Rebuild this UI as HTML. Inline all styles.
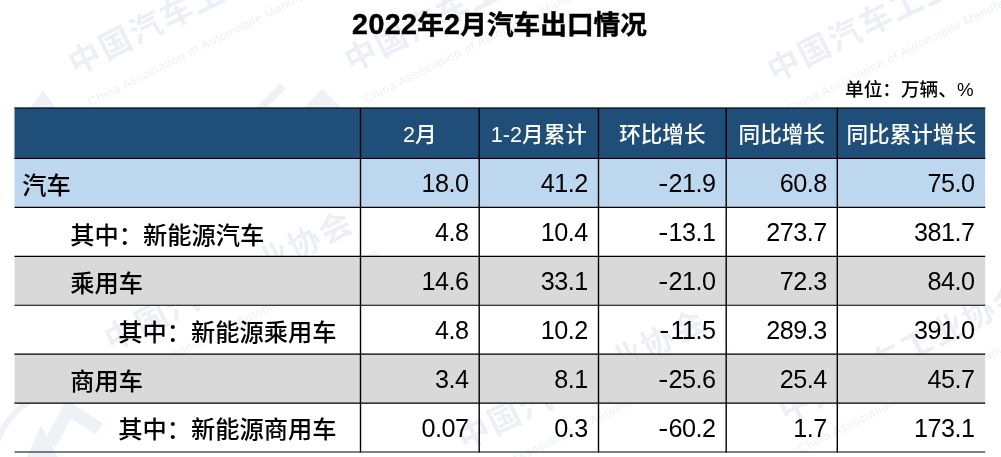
<!DOCTYPE html><html lang="zh-CN"><head><meta charset="utf-8"><title>2022年2月汽车出口情况</title><style>
html,body{margin:0;padding:0;background:#fff}
body{width:1001px;height:457px;position:relative;overflow:hidden;font-family:"Liberation Sans","Noto Sans CJK SC",sans-serif;color:#000;font-weight:500}
.a{position:absolute;white-space:nowrap}
.bg{position:absolute}
.ln{position:absolute;background:#000}
.w{position:absolute;white-space:nowrap;transform-origin:0 0;transform:rotate(-26.5deg);color:#ECF0F6;font-weight:700}
.w1{font-size:32px;line-height:38px;letter-spacing:2.2px}
.w2{font-size:12px;line-height:16px;font-weight:400;margin-left:0px;margin-top:14px;letter-spacing:0.7px}
.t{position:absolute;white-space:nowrap;font-weight:700;text-align:center;-webkit-text-stroke:0.45px #000}
.t .d{font-size:28.6px;line-height:1px;letter-spacing:0.4px}
.h{position:absolute;white-space:nowrap;color:#fff;text-align:center}
.c{position:absolute;white-space:nowrap}
span.k{}
.n{position:absolute;white-space:nowrap;text-align:right;letter-spacing:-0.5px}
.m{display:inline-block;width:10px;text-align:center;margin-right:1px;transform:scaleX(1.2)}

</style></head><body>
<div class="w" style="left:62.1px;top:49.1px"><div class="w1">中国汽车工业协会</div><div class="w2">China Association of Automobile Manufacturers</div></div>
<div class="w" style="left:337.6px;top:45.7px"><div class="w1">中国汽车工业协会</div><div class="w2">China Association of Automobile Manufacturers</div></div>
<div class="w" style="left:761.1px;top:56.2px"><div class="w1">中国汽车工业协会</div><div class="w2">China Association of Automobile Manufacturers</div></div>
<div class="w" style="left:97.5px;top:324.7px"><div class="w1">中国汽车工业协会</div><div class="w2">China Association of Automobile Manufacturers</div></div>
<div class="w" style="left:451.1px;top:423.7px"><div class="w1">中国汽车工业协会</div><div class="w2">China Association of Automobile Manufacturers</div></div>
<div class="w" style="left:772.1px;top:395.7px"><div class="w1">中国汽车工业协会</div><div class="w2">China Association of Automobile Manufacturers</div></div>
<div class="t" style="left:0;width:999px;top:6.5px;font-size:26.67px;line-height:36px"><span class="d">2022</span>年<span class="d">2</span>月汽车出口情况</div>
<div class="n" style="left:700px;width:273.5px;top:77px;font-size:18.67px;line-height:26px;letter-spacing:0">单位<span class="k">：</span>万辆、%</div>
<svg class="bg" style="left:0;top:0" width="1001" height="457" viewBox="0 0 1001 457">
<g fill="#EEF2F7" stroke="none"><polygon points="27,457 41,425 58,457"/><polygon points="30,108 43,90 56,108"/><polygon points="304,108 322,89 342,108"/></g>
<g fill="none" stroke="#EEF2F7"><polyline points="50,444 69,409 99,429" stroke-width="13"/><path d="M-6,470 A72,72 0 0 1 42,396" stroke-width="6"/><line x1="259" y1="110" x2="283" y2="86" stroke-width="8"/></g>
<rect x="14.5" y="107.7" width="970.7" height="51.2" fill="#1F4E79"/>
<rect x="14.5" y="157.9" width="970.7" height="49.9" fill="#BDD7EE"/>
<rect x="14.5" y="255.8" width="970.7" height="49.9" fill="#D9D9D9"/>
<rect x="14.5" y="353.6" width="970.7" height="50" fill="#D9D9D9"/>
<g stroke="#000" stroke-width="1.15">
<line x1="14.5" y1="108" x2="985.2" y2="108"/>
<line x1="14.5" y1="158.4" x2="985.2" y2="158.4"/>
<line x1="14.5" y1="207.3" x2="985.2" y2="207.3"/>
<line x1="14.5" y1="256.3" x2="985.2" y2="256.3"/>
<line x1="14.5" y1="305.2" x2="985.2" y2="305.2"/>
<line x1="14.5" y1="354.1" x2="985.2" y2="354.1"/>
<line x1="14.5" y1="403.1" x2="985.2" y2="403.1"/>
<line x1="14.5" y1="452" x2="985.2" y2="452"/>
</g><g stroke="#000" stroke-width="1.4">
<line x1="360.5" y1="108" x2="360.5" y2="452.6"/>
<line x1="479.2" y1="108" x2="479.2" y2="452.6"/>
<line x1="598.5" y1="108" x2="598.5" y2="452.6"/>
<line x1="726.2" y1="108" x2="726.2" y2="452.6"/>
<line x1="837.3" y1="108" x2="837.3" y2="452.6"/>
</g></svg>
<div class="h" style="left:360.5px;width:118.7px;top:109.5px;height:50.4px;line-height:50.4px;font-size:21.6px">2月</div>
<div class="h" style="left:479.2px;width:119.3px;top:109.5px;height:50.4px;line-height:50.4px;font-size:21.6px">1-2月累计</div>
<div class="h" style="left:598.5px;width:127.7px;top:109.5px;height:50.4px;line-height:50.4px;font-size:21.6px">环比增长</div>
<div class="h" style="left:726.2px;width:111.1px;top:109.5px;height:50.4px;line-height:50.4px;font-size:21.6px">同比增长</div>
<div class="h" style="left:837.3px;width:147.9px;top:109.5px;height:50.4px;line-height:50.4px;font-size:21.6px">同比累计增长</div>
<div class="c" style="left:22.3px;top:161.7px;height:48.9px;line-height:48.9px;font-size:24.25px">汽车</div>
<div class="n" style="left:360.5px;width:108.1px;top:159.1px;height:48.9px;line-height:48.9px;font-size:25.2px">18.0</div>
<div class="n" style="left:479.2px;width:108.7px;top:159.1px;height:48.9px;line-height:48.9px;font-size:25.2px">41.2</div>
<div class="n" style="left:598.5px;width:117.1px;top:159.1px;height:48.9px;line-height:48.9px;font-size:25.2px"><span class="m">-</span>21.9</div>
<div class="n" style="left:726.2px;width:100.5px;top:159.1px;height:48.9px;line-height:48.9px;font-size:25.2px">60.8</div>
<div class="n" style="left:837.3px;width:137.3px;top:159.1px;height:48.9px;line-height:48.9px;font-size:25.2px">75.0</div>
<div class="c" style="left:70.3px;top:210.6px;height:49px;line-height:49px;font-size:24.25px">其中<span class="k">：</span>新能源汽车</div>
<div class="n" style="left:360.5px;width:108.1px;top:208px;height:49px;line-height:49px;font-size:25.2px">4.8</div>
<div class="n" style="left:479.2px;width:108.7px;top:208px;height:49px;line-height:49px;font-size:25.2px">10.4</div>
<div class="n" style="left:598.5px;width:117.1px;top:208px;height:49px;line-height:49px;font-size:25.2px"><span class="m">-</span>13.1</div>
<div class="n" style="left:726.2px;width:100.5px;top:208px;height:49px;line-height:49px;font-size:25.2px">273.7</div>
<div class="n" style="left:837.3px;width:137.3px;top:208px;height:49px;line-height:49px;font-size:25.2px">381.7</div>
<div class="c" style="left:70.3px;top:259.6px;height:48.9px;line-height:48.9px;font-size:24.25px">乘用车</div>
<div class="n" style="left:360.5px;width:108.1px;top:257px;height:48.9px;line-height:48.9px;font-size:25.2px">14.6</div>
<div class="n" style="left:479.2px;width:108.7px;top:257px;height:48.9px;line-height:48.9px;font-size:25.2px">33.1</div>
<div class="n" style="left:598.5px;width:117.1px;top:257px;height:48.9px;line-height:48.9px;font-size:25.2px"><span class="m">-</span>21.0</div>
<div class="n" style="left:726.2px;width:100.5px;top:257px;height:48.9px;line-height:48.9px;font-size:25.2px">72.3</div>
<div class="n" style="left:837.3px;width:137.3px;top:257px;height:48.9px;line-height:48.9px;font-size:25.2px">84.0</div>
<div class="c" style="left:118.3px;top:308.5px;height:48.9px;line-height:48.9px;font-size:24.25px">其中<span class="k">：</span>新能源乘用车</div>
<div class="n" style="left:360.5px;width:108.1px;top:305.9px;height:48.9px;line-height:48.9px;font-size:25.2px">4.8</div>
<div class="n" style="left:479.2px;width:108.7px;top:305.9px;height:48.9px;line-height:48.9px;font-size:25.2px">10.2</div>
<div class="n" style="left:598.5px;width:117.1px;top:305.9px;height:48.9px;line-height:48.9px;font-size:25.2px"><span class="m">-</span>11.5</div>
<div class="n" style="left:726.2px;width:100.5px;top:305.9px;height:48.9px;line-height:48.9px;font-size:25.2px">289.3</div>
<div class="n" style="left:837.3px;width:137.3px;top:305.9px;height:48.9px;line-height:48.9px;font-size:25.2px">391.0</div>
<div class="c" style="left:70.3px;top:357.4px;height:49px;line-height:49px;font-size:24.25px">商用车</div>
<div class="n" style="left:360.5px;width:108.1px;top:354.8px;height:49px;line-height:49px;font-size:25.2px">3.4</div>
<div class="n" style="left:479.2px;width:108.7px;top:354.8px;height:49px;line-height:49px;font-size:25.2px">8.1</div>
<div class="n" style="left:598.5px;width:117.1px;top:354.8px;height:49px;line-height:49px;font-size:25.2px"><span class="m">-</span>25.6</div>
<div class="n" style="left:726.2px;width:100.5px;top:354.8px;height:49px;line-height:49px;font-size:25.2px">25.4</div>
<div class="n" style="left:837.3px;width:137.3px;top:354.8px;height:49px;line-height:49px;font-size:25.2px">45.7</div>
<div class="c" style="left:118.3px;top:406.4px;height:48.9px;line-height:48.9px;font-size:24.25px">其中<span class="k">：</span>新能源商用车</div>
<div class="n" style="left:360.5px;width:108.1px;top:403.8px;height:48.9px;line-height:48.9px;font-size:25.2px">0.07</div>
<div class="n" style="left:479.2px;width:108.7px;top:403.8px;height:48.9px;line-height:48.9px;font-size:25.2px">0.3</div>
<div class="n" style="left:598.5px;width:117.1px;top:403.8px;height:48.9px;line-height:48.9px;font-size:25.2px"><span class="m">-</span>60.2</div>
<div class="n" style="left:726.2px;width:100.5px;top:403.8px;height:48.9px;line-height:48.9px;font-size:25.2px">1.7</div>
<div class="n" style="left:837.3px;width:137.3px;top:403.8px;height:48.9px;line-height:48.9px;font-size:25.2px">173.1</div>
</body></html>
